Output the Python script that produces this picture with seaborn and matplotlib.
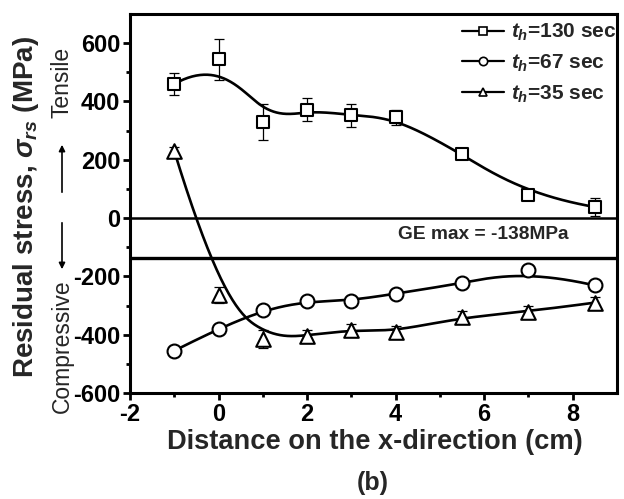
import numpy as np
import pandas as pd
import matplotlib
matplotlib.use("Agg")
import matplotlib.pyplot as plt
from matplotlib.lines import Line2D
import seaborn as sns

# Measurement positions along x (cm)
distance = [-1, 0, 1, 2, 3, 4, 5.5, 7, 8.5]

# Residual stress (MPa) for each heating time, with error bars
stress_130 = [460, 545, 331, 372, 352, 345, 220, 78, 38]
err_130 = [38, 70, 62, 40, 40, 25, 15, 12, 30]
stress_67 = [-455, -379, -314, -286, -283, -259, -224, -179, -231]
err_67 = [12, 10, 10, 10, 10, 10, 10, 8, 10]
stress_35 = [230, -265, -414, -403, -383, -390, -338, -321, -290]
err_35 = [15, 28, 30, 20, 18, 20, 18, 18, 20]

series_labels = [r"$t_h$=130 sec", r"$t_h$=67 sec", r"$t_h$=35 sec"]
series_markers = ["s", "o", "^"]
marker_area = {"s": 85, "o": 100, "^": 110}

ge_max = -138


def bspline(xs, ys, n=500, k=3):
    """Clamped cubic B-spline using the points as control points."""
    P = np.column_stack([xs, ys]).astype(float)
    m = len(P)
    t = np.concatenate([np.zeros(k), np.linspace(0, 1, m - k + 1), np.ones(k)])
    u = np.linspace(0, 1, n)
    N = np.zeros((n, len(t) - 1))
    for i in range(len(t) - 1):
        N[:, i] = ((u >= t[i]) & (u < t[i + 1])).astype(float)
    N[-1, m - 1] = 1.0
    for d in range(1, k + 1):
        newN = np.zeros((n, len(t) - 1 - d))
        for i in range(len(t) - 1 - d):
            a = t[i + d] - t[i]
            b = t[i + d + 1] - t[i + 1]
            term = np.zeros(n)
            if a > 0:
                term += (u - t[i]) / a * N[:, i]
            if b > 0:
                term += (t[i + d + 1] - u) / b * N[:, i + 1]
            newN[:, i] = term
        N = newN
    C = N @ P
    return C[:, 0], C[:, 1]


sns.set_theme(style="ticks")
plt.rcParams["font.family"] = ["Liberation Sans", "DejaVu Sans"]
plt.rcParams["axes.unicode_minus"] = False
plt.rcParams["mathtext.fontset"] = "custom"
plt.rcParams["mathtext.rm"] = "Liberation Sans:bold"
plt.rcParams["mathtext.it"] = "Liberation Sans:italic:bold"
plt.rcParams["mathtext.bf"] = "Liberation Sans:bold"

W, H = 624, 499
fig = plt.figure(figsize=(W / 100, H / 100), dpi=100)
fig.patch.set_facecolor("white")
ax = fig.add_axes([130 / W, 1 - 393 / H, (617 - 130) / W, (393 - 14) / H])
ax.set_facecolor("white")

lw = 1.9
rows = []
pts = []
for lab, ys, es, mk in zip(series_labels,
                           [stress_130, stress_67, stress_35],
                           [err_130, err_67, err_35],
                           series_markers):
    cx, cy = bspline(distance, ys)
    rows.append(pd.DataFrame({"x": cx, "y": cy, "series": lab}))
    pts.append(pd.DataFrame({"x": distance, "y": ys, "err": es, "series": lab}))

curves = pd.concat(rows, ignore_index=True)
points = pd.concat(pts, ignore_index=True)

sns.lineplot(data=curves, x="x", y="y", units="series", estimator=None, sort=False,
             color="black", linewidth=lw, ax=ax, legend=False, zorder=3)

for lab, mk in zip(series_labels, series_markers):
    d = points[points["series"] == lab]
    ax.errorbar(d["x"], d["y"], yerr=d["err"], fmt="none", ecolor="black",
                elinewidth=0.9, capsize=3.5, capthick=0.9, zorder=2)
    sns.scatterplot(data=d, x="x", y="y", marker=mk, s=marker_area[mk],
                    facecolor="white", edgecolor="black", linewidth=1.5,
                    ax=ax, legend=False, zorder=4)

# reference lines: zero stress and the GE maximum
ax.axhline(0, color="black", linewidth=1.8, zorder=1)
ax.axhline(ge_max, color="black", linewidth=2.4, zorder=1)
ax.text(7.9, -55, "GE max = -138MPa", ha="right", va="center",
        fontsize=13.8, fontweight="bold")

ax.set_xlim(-2, 9)
ax.set_ylim(-600, 700)
ax.set_xticks([-2, 0, 2, 4, 6, 8])
ax.set_xticks(np.arange(-1, 9, 2), minor=True)
ax.set_yticks([-600, -400, -200, 0, 200, 400, 600])
ax.set_yticks(np.arange(-500, 700, 200), minor=True)
ax.tick_params(axis="both", which="major", direction="out", length=5, width=2,
               labelsize=17, pad=2, color="black", labelcolor="black")
ax.tick_params(axis="both", which="minor", direction="out", length=3, width=2,
               color="black")
for lbl in ax.get_xticklabels() + ax.get_yticklabels():
    lbl.set_fontweight("bold")
for sp in ax.spines.values():
    sp.set_linewidth(2.2)
    sp.set_color("black")
ax.set_xlabel("")
ax.set_ylabel("")

handles = [Line2D([], [], color="black", linewidth=1.6, marker=mk, markersize=6,
                  markerfacecolor="white", markeredgecolor="black", markeredgewidth=1.2)
           for mk in series_markers]
leg = ax.legend(handles, series_labels, loc="upper right", bbox_to_anchor=(1.025, 1.012),
                frameon=False, fontsize=15, handlelength=2.0, handletextpad=0.35,
                labelspacing=0.45, borderaxespad=0.2)
for t in leg.get_texts():
    t.set_fontweight("bold")


def fx(x):
    return x / W


def fy(y):
    return 1 - y / H


fig.text(fx(375), fy(442), "Distance on the x-direction (cm)", ha="center", va="center",
         fontsize=19.6, fontweight="bold")
fig.text(fx(373), fy(483), "(b)", ha="center", va="center", fontsize=18, fontweight="bold")
fig.text(fx(26), fy(207), r"Residual stress, $\sigma_{rs}$ (MPa)", ha="center", va="center",
         rotation=90, fontsize=20, fontweight="bold")
fig.text(fx(62), fy(82), "Tensile", ha="center", va="center", rotation=90, fontsize=16.5)
fig.text(fx(62), fy(346), "Compressive", ha="center", va="center", rotation=90, fontsize=16.5)
fig.add_artist(matplotlib.patches.FancyArrowPatch(
    (fx(62), fy(195)), (fx(62), fy(142)), transform=fig.transFigure,
    arrowstyle="-|>", mutation_scale=9, color="black", linewidth=1.2))
fig.add_artist(matplotlib.patches.FancyArrowPatch(
    (fx(62), fy(220)), (fx(62), fy(272)), transform=fig.transFigure,
    arrowstyle="-|>", mutation_scale=9, color="black", linewidth=1.2))

fig.savefig("out.png", dpi=100, facecolor="white")
